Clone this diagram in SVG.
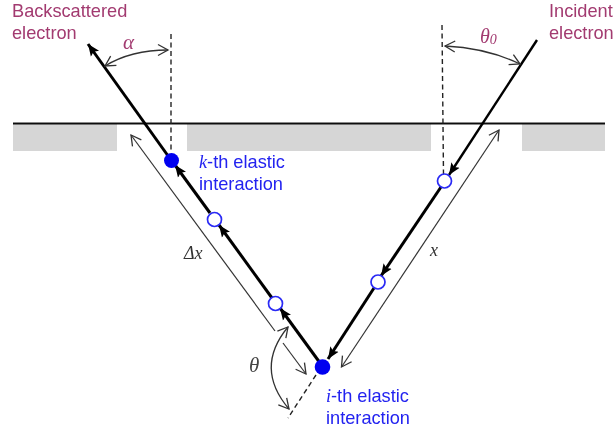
<svg xmlns="http://www.w3.org/2000/svg" width="614" height="430" viewBox="0 0 614 430">
<style>
text{font-family:"Liberation Sans",Arial,sans-serif}
.lab{font-size:18.2px;fill:#a23a70}
.blue{font-size:18.2px;fill:#2323f0}
.sym{font-family:"Liberation Serif","Times New Roman",serif;font-style:italic}
.main{fill:none;stroke:#000;stroke-width:3}
.thin{fill:none;stroke:#333;stroke-width:1.2}
.dash{fill:none;stroke:#222;stroke-width:1.4;stroke-dasharray:5 3.5}
.ah{fill:none;stroke:#333;stroke-width:1.3}
.open{fill:#fff;stroke:#2a2af5;stroke-width:1.7}
.full{fill:#0000f0}
.hatch{fill:#d6d6d6}
</style>
<defs>
<filter id="soft" x="-2%" y="-2%" width="104%" height="104%"><feGaussianBlur stdDeviation="0.45"/></filter>
<marker id="solid" markerUnits="userSpaceOnUse" markerWidth="14" markerHeight="12" refX="12" refY="6" orient="auto"><path d="M0 1L12 6L0 11L2.500 6Z" fill="#000"/></marker>
<marker id="open" markerUnits="userSpaceOnUse" markerWidth="14" markerHeight="14" refX="11" refY="7" orient="auto"><path d="M1 1.500L11 7L1 12.500" fill="none" stroke="#333" stroke-width="1.3"/></marker>
<marker id="openS" markerUnits="userSpaceOnUse" markerWidth="14" markerHeight="14" refX="3" refY="7" orient="auto"><path d="M13 1.500L3 7L13 12.500" fill="none" stroke="#333" stroke-width="1.3"/></marker>
</defs>
<rect width="614" height="430" fill="#fff"/>
<g filter="url(#soft)">
<g id="surface">
<rect class="hatch" x="13" y="124" width="104" height="27"/>
<rect class="hatch" x="187" y="124" width="244" height="27"/>
<rect class="hatch" x="522" y="124" width="83" height="27"/>
<line x1="13" y1="123.500" x2="605" y2="123.500" stroke="#111" stroke-width="2"/>
</g>
<g id="connectors">
<line class="dash" x1="171" y1="34" x2="171" y2="153"/>
<line class="dash" x1="442" y1="25" x2="443.500" y2="175"/>
<line class="dash" x1="316" y1="375" x2="288" y2="418"/>
<line class="main" x1="537" y1="40" x2="449" y2="175" style="stroke-width:2.400" marker-end="url(#solid)"/>
<line class="main" x1="441" y1="187" x2="381" y2="276" marker-end="url(#solid)"/>
<line class="main" x1="374" y1="288" x2="328" y2="359" marker-end="url(#solid)"/>
<line class="main" x1="323" y1="367" x2="280" y2="308" marker-end="url(#solid)"/>
<line class="main" x1="272" y1="298" x2="219" y2="225" marker-end="url(#solid)"/>
<line class="main" x1="210" y1="213" x2="175" y2="165" marker-end="url(#solid)"/>
<line class="main" x1="171" y1="160" x2="88" y2="44" marker-end="url(#solid)"/>
<line class="thin" x1="275" y1="331" x2="131" y2="135" marker-end="url(#open)"/>
<line class="thin" x1="341.500" y1="367" x2="499" y2="130" marker-start="url(#openS)" marker-end="url(#open)"/>
<line class="thin" x1="283" y1="343" x2="306" y2="374" marker-end="url(#open)"/>
<path class="ah" d="M105 66Q131 50 168 50" marker-start="url(#openS)" marker-end="url(#open)"/>
<path class="ah" d="M445 46Q487 48 520 64" marker-start="url(#openS)" marker-end="url(#open)"/>
<path class="ah" d="M288 327Q254 368 289 409" marker-start="url(#openS)" marker-end="url(#open)"/>
</g>
<g id="k-th"><circle class="full" cx="171.500" cy="160.500" r="7.500"/></g>
<g id="n1"><circle class="open" cx="214.500" cy="219.500" r="7"/></g>
<g id="n2"><circle class="open" cx="275.500" cy="303.500" r="7"/></g>
<g id="i-th"><circle class="full" cx="322.500" cy="367" r="7.800"/></g>
<g id="n3"><circle class="open" cx="378" cy="282" r="7"/></g>
<g id="n4"><circle class="open" cx="444.500" cy="181" r="7"/></g>
<g id="labels">
<text class="lab" x="12" y="17">Backscattered</text>
<text class="lab" x="12" y="39">electron</text>
<text class="lab" x="549" y="17">Incident</text>
<text class="lab" x="549" y="39">electron</text>
<text class="blue" x="199" y="167.500"><tspan class="sym">k</tspan>-th elastic</text>
<text class="blue" x="199" y="189.500">interaction</text>
<text class="blue" x="326" y="402"><tspan class="sym">i</tspan>-th elastic</text>
<text class="blue" x="326" y="424">interaction</text>
<text class="sym" x="123" y="49" font-size="21" fill="#a23a70">α</text>
<text class="sym" x="480" y="43" font-size="20" fill="#a23a70">θ<tspan font-size="14" dy="1">0</tspan></text>
<text class="sym" x="249" y="372" font-size="21" fill="#444">θ</text>
<text class="sym" x="184" y="259" font-size="18" fill="#333">Δx</text>
<text class="sym" x="430" y="256" font-size="18" fill="#333">x</text>
</g>
</g>
</svg>
